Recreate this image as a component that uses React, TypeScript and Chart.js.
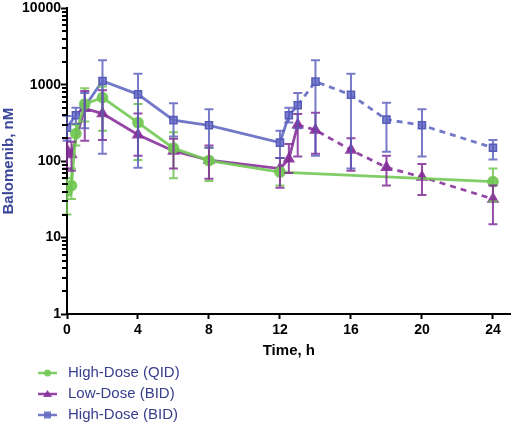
import React, { useEffect, useRef } from 'react';
import { Chart, registerables } from 'chart.js';

Chart.register(...registerables);

// High-Dose (QID)
const qidTime = [0, 0.25, 0.5, 1, 2, 4, 6, 8, 12, 24];
const qidMean = [40, 48, 230, 560, 680, 320, 148, 102, 72, 54];
const qidLo = [20, 32, 160, 330, 250, 104, 60, 55, 48, 30];
const qidHi = [60, 80, 300, 900, 950, 560, 240, 150, 110, 80];

// Low-Dose (BID)
const lowTime = [0, 0.25, 1, 2, 4, 6, 8, 12, 12.5, 13, 14, 16, 18, 20, 24];
const lowMean = [140, 122, 490, 420, 222, 136, 103, 80, 107, 300, 255, 140, 83, 62, 32];
const lowLo = [80, 75, 185, 190, 118, 80, 59, 45, 70, 115, 125, 75, 48, 36, 15];
const lowHi = [200, 180, 830, 850, 420, 197, 160, 110, 168, 415, 430, 200, 118, 92, 48];

// High-Dose (BID)
const bidTime = [0, 0.5, 1, 2, 4, 6, 8, 12, 12.5, 13, 14, 16, 18, 20, 24];
const bidMean = [275, 400, 520, 1120, 750, 345, 295, 175, 400, 540, 1100, 740, 350, 295, 150];
const bidLo = [185, 310, 270, 125, 82, 210, 150, 110, 320, 270, 118, 80, 133, 115, 105];
const bidHi = [390, 500, 780, 2100, 1400, 575, 480, 250, 500, 780, 2100, 1400, 580, 480, 190];

const xTicks = [0, 4, 8, 12, 16, 20, 24];
const yTicks = [1, 10, 100, 1000, 10000];
const minorSteps = [2, 3, 4, 5, 6, 7, 8, 9];

const legendLabels = ['High-Dose (QID)', 'Low-Dose (BID)', 'High-Dose (BID)'];

const GREEN = 'rgba(115,200,85,0.9)';
const PURPLE = 'rgba(135,50,155,0.9)';
const BLUE = 'rgba(100,106,195,0.9)';

const FONT = "'Liberation Sans', Arial, sans-serif";

const toPoints = (xs: number[], ys: number[]) => xs.map((x, i) => ({ x, y: ys[i] }));

// draws the error bars using the chart scales
const errorBars = {
  id: 'errorBars',
  afterDatasetsDraw(chart: any) {
    const { ctx, scales } = chart;
    chart.data.datasets.forEach((ds: any) => {
      ctx.save();
      ctx.strokeStyle = ds.errColor;
      ctx.lineWidth = 2;
      ds.data.forEach((p: any, i: number) => {
        const x = scales.x.getPixelForValue(p.x);
        const yLo = scales.y.getPixelForValue(ds.errLo[i]);
        const yHi = scales.y.getPixelForValue(ds.errHi[i]);
        ctx.beginPath();
        ctx.moveTo(x, yLo);
        ctx.lineTo(x, yHi);
        ctx.moveTo(x - 4.5, yLo);
        ctx.lineTo(x + 4.5, yLo);
        ctx.moveTo(x - 4.5, yHi);
        ctx.lineTo(x + 4.5, yHi);
        ctx.stroke();
      });
      ctx.restore();
    });
  },
};

// short minor ticks on the log axis
const minorTicks = {
  id: 'minorTicks',
  afterDraw(chart: any) {
    const { ctx, scales } = chart;
    const y = scales.y;
    const left = chart.chartArea.left;
    ctx.save();
    ctx.strokeStyle = '#000';
    ctx.lineWidth = 2;
    yTicks.slice(0, -1).forEach((d) => {
      minorSteps.forEach((k) => {
        const py = Math.round(y.getPixelForValue(k * d));
        ctx.beginPath();
        ctx.moveTo(left - 5, py);
        ctx.lineTo(left + 1, py);
        ctx.stroke();
      });
    });
    ctx.restore();
  },
};

const legendBox = {
  id: 'legendBox',
  afterDraw(chart: any) {
    const { ctx } = chart;
    const rows = [373, 394, 415];
    const cols = [GREEN, PURPLE, BLUE];
    ctx.save();
    rows.forEach((ry, i) => {
      ctx.strokeStyle = cols[i];
      ctx.fillStyle = cols[i];
      ctx.lineWidth = 2.5;
      ctx.beginPath();
      ctx.moveTo(38, ry);
      ctx.lineTo(57, ry);
      ctx.stroke();
      ctx.beginPath();
      if (i === 0) {
        ctx.arc(47.5, ry, 3.5, 0, Math.PI * 2);
      } else if (i === 1) {
        ctx.moveTo(47.5, ry - 4);
        ctx.lineTo(52, ry + 3);
        ctx.lineTo(43, ry + 3);
        ctx.closePath();
      } else {
        ctx.rect(44, ry - 3.5, 7, 7);
      }
      ctx.fill();
      ctx.fillStyle = '#373e8c';
      ctx.font = `15px ${FONT}`;
      ctx.textBaseline = 'middle';
      ctx.fillText(legendLabels[i], 68, ry);
    });
    ctx.restore();
  },
};

const App: React.FC = () => {
  const chartRef = useRef<HTMLCanvasElement>(null);

  useEffect(() => {
    document.body.style.margin = '0';
    if (!chartRef.current) return;
    const dashAfter13 = {
      borderDash: (c: any) => (c.p0.parsed.x >= 13 ? [6, 5] : undefined),
    };
    const chartInstance = new Chart(chartRef.current, {
      type: 'line',
      data: {
        datasets: [
          {
            label: legendLabels[0],
            data: toPoints(qidTime, qidMean),
            borderColor: GREEN,
            backgroundColor: GREEN,
            borderWidth: 2.8,
            pointStyle: 'circle',
            pointRadius: 4.5,
            errLo: qidLo,
            errHi: qidHi,
            errColor: 'rgba(110,195,80,0.85)',
          } as any,
          {
            label: legendLabels[1],
            data: toPoints(lowTime, lowMean),
            borderColor: PURPLE,
            backgroundColor: PURPLE,
            borderWidth: 2.8,
            pointStyle: 'triangle',
            pointRadius: 4.5,
            segment: dashAfter13,
            errLo: lowLo,
            errHi: lowHi,
            errColor: 'rgba(130,45,150,0.85)',
          } as any,
          {
            label: legendLabels[2],
            data: toPoints(bidTime, bidMean),
            borderColor: BLUE,
            backgroundColor: 'rgba(115,120,205,0.9)',
            pointBorderColor: 'rgba(80,86,180,0.95)',
            borderWidth: 2.8,
            pointStyle: 'rect',
            pointRadius: 5,
            pointBorderWidth: 1.5,
            segment: dashAfter13,
            errLo: bidLo,
            errHi: bidHi,
            errColor: 'rgba(85,90,185,0.8)',
          } as any,
        ],
      },
      options: {
        animation: false,
        responsive: false,
        layout: { padding: { left: 0, top: 7, right: 3, bottom: 62 } },
        plugins: {
          legend: { display: false },
          tooltip: { enabled: false },
        },
        scales: {
          x: {
            type: 'linear',
            min: 0,
            max: 25,
            afterBuildTicks: (s: any) => {
              s.ticks = xTicks.map((v) => ({ value: v }));
            },
            afterFit: (s: any) => {
              s.height = 46;
            },
            grid: { drawOnChartArea: false, tickLength: 5, tickColor: '#000', tickWidth: 2 },
            border: { color: '#000', width: 2 },
            ticks: {
              color: '#000',
              padding: 3,
              maxRotation: 0,
              font: { family: FONT, size: 14, weight: 'bold' },
            },
            title: {
              display: true,
              text: 'Time, h',
              color: '#000',
              padding: 0,
              font: { family: FONT, size: 15, weight: 'bold' },
            },
          },
          y: {
            type: 'logarithmic',
            min: 1,
            max: 10000,
            afterBuildTicks: (s: any) => {
              s.ticks = yTicks.map((v) => ({ value: v, major: true }));
            },
            afterFit: (s: any) => {
              s.width = 67;
            },
            grid: { drawOnChartArea: false, tickLength: 6, tickWidth: 2, tickColor: '#000' },
            border: { color: '#000', width: 2 },
            ticks: {
              color: '#000',
              padding: 0,
              autoSkip: false,
              font: { family: FONT, size: 14, weight: 'bold' },
              callback: (v: any) => String(v),
            },
            title: {
              display: true,
              text: 'Balomenib, nM',
              color: '#3d479a',
              padding: 0,
              font: { family: FONT, size: 15, weight: 'bold' },
            },
          },
        },
      },
      plugins: [errorBars, minorTicks, legendBox],
    });

    return () => {
      chartInstance.destroy();
    };
  }, []);

  return (
    <div style={{ width: 518, height: 422 }}>
      <canvas ref={chartRef} width={518} height={422} />
    </div>
  );
};

export default App;
